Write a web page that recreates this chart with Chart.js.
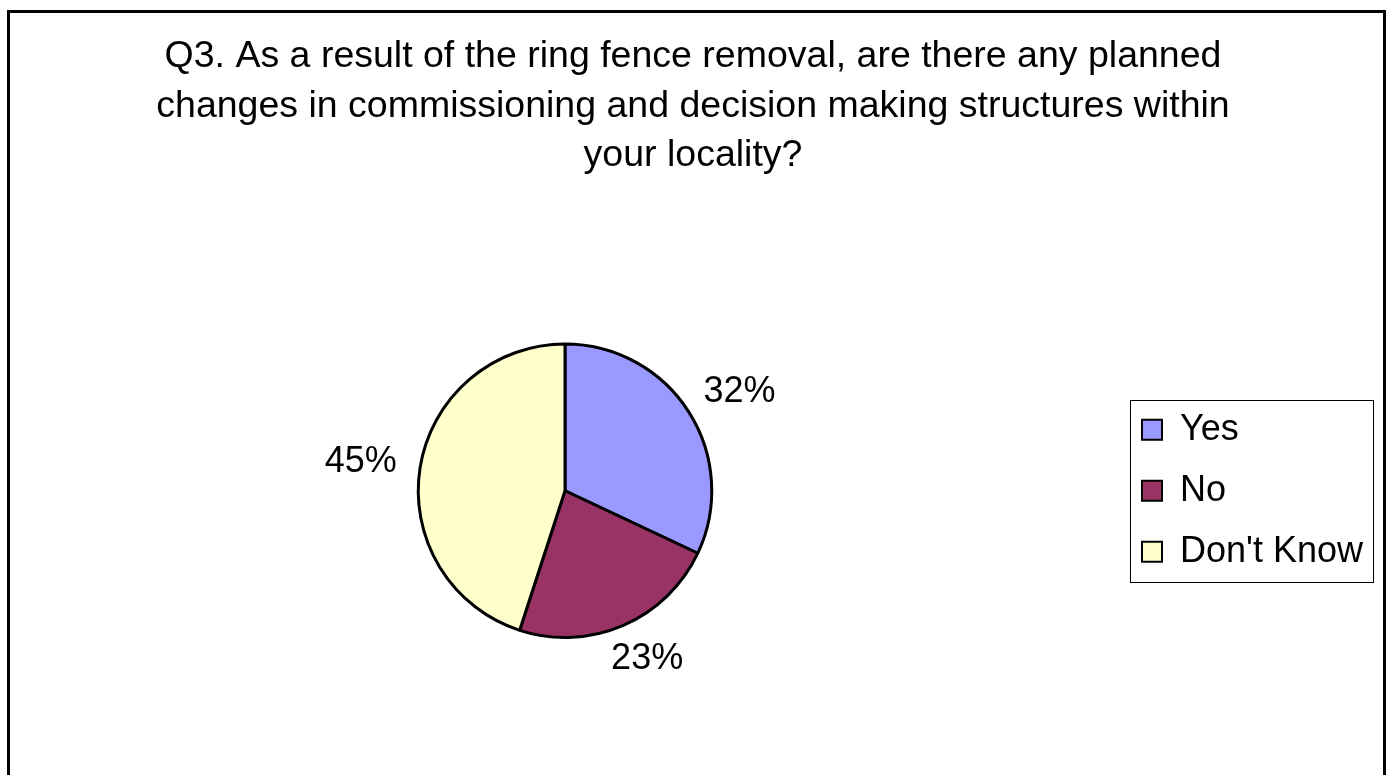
<!DOCTYPE html>
<html>
<head>
<meta charset="utf-8">
<title>Q3 ring fence removal</title>
<script src="https://cdn.jsdelivr.net/npm/chart.js@4/dist/chart.umd.min.js"></script>
<style>
    html, body { margin: 0; padding: 0; background: #fff; overflow: hidden; }
    #frame {
        position: absolute; left: 7px; top: 10px;
        width: 1373px; height: 820px;
        border: 3px solid #000;
    }
    #myChart { position: absolute; left: 0; top: 0; }
</style>
</head>
<body>
<div id="frame"></div>
<canvas id="myChart" width="1386" height="775"></canvas>
<script>
// Survey answers (percent of respondents)
const categories = ['Yes', 'No', "Don't Know"];
const percentages = [32, 23, 45];
const sliceColors = ['#9999FF', '#993366', '#FFFFCC'];

const titleLines = [
    'Q3. As a result of the ring fence removal, are there any planned',
    'changes in commissioning and decision making structures within',
    'your locality?'
];

const FONT = '"Liberation Sans", Arial, sans-serif';

// Percent labels just outside each slice
const sliceLabels = {
    id: 'sliceLabels',
    afterDatasetsDraw(chart) {
        const ctx = chart.ctx;
        const meta = chart.getDatasetMeta(0);
        const values = chart.data.datasets[0].data;
        ctx.save();
        ctx.font = '36px ' + FONT;
        ctx.fillStyle = '#000';
        ctx.textAlign = 'center';
        ctx.textBaseline = 'middle';
        meta.data.forEach(function (arc, i) {
            const p = arc.getProps(['x', 'y', 'startAngle', 'endAngle', 'outerRadius'], true);
            const mid = (p.startAngle + p.endAngle) / 2;
            const text = values[i] + '%';
            const w = ctx.measureText(text).width;
            const h = 26;
            const gap = 24;
            const cx = p.x + Math.cos(mid) * (p.outerRadius + gap + w / 2);
            const cy = p.y + Math.sin(mid) * (p.outerRadius + gap + h / 2);
            ctx.fillText(text, cx, cy);
        });
        ctx.restore();
    }
};

// Thin box around the legend entries
const legendBorder = {
    id: 'legendBorder',
    afterDraw(chart) {
        const boxes = chart.legend.legendHitBoxes;
        if (!boxes || !boxes.length) return;
        let l = Infinity, t = Infinity, r = -Infinity, b = -Infinity;
        boxes.forEach(function (hb) {
            l = Math.min(l, hb.left);
            t = Math.min(t, hb.top);
            r = Math.max(r, hb.left + hb.width);
            b = Math.max(b, hb.top + hb.height);
        });
        const pad = 12;
        const ctx = chart.ctx;
        ctx.save();
        ctx.strokeStyle = '#000';
        ctx.lineWidth = 1;
        ctx.strokeRect(Math.round(l - pad) + 0.5, Math.round(t - pad) + 0.5,
            Math.round(r - l + 2 * pad) - 2, Math.round(b - t + 2 * pad));
        ctx.restore();
    }
};

var ctx = document.getElementById('myChart').getContext('2d');
var chart = new Chart(ctx, {
    type: 'pie',
    data: {
        labels: categories,
        datasets: [{
            data: percentages,
            backgroundColor: sliceColors,
            borderColor: '#000',
            borderWidth: 3
        }]
    },
    options: {
        responsive: false,
        animation: false,
        layout: {
            padding: { top: 0, bottom: 136, left: 13, right: 13 }
        },
        plugins: {
            title: {
                display: true,
                text: titleLines,
                color: '#000',
                font: { family: FONT, size: 37.5, weight: 'normal', lineHeight: 1.32 },
                padding: { top: 32, bottom: 162 }
            },
            legend: {
                position: 'right',
                fullSize: false,
                labels: {
                    color: '#000',
                    font: { family: FONT, size: 36 },
                    boxWidth: 20,
                    boxHeight: 20,
                    padding: 25,
                    // swatches keep a slightly thinner outline than the slices
                    generateLabels(chart) {
                        const items = Chart.overrides.pie.plugins.legend.labels.generateLabels(chart);
                        items.forEach(function (item) { item.lineWidth = 2; });
                        return items;
                    }
                }
            },
            tooltip: { enabled: false }
        }
    },
    plugins: [sliceLabels, legendBorder]
});
</script>
</body>
</html>
